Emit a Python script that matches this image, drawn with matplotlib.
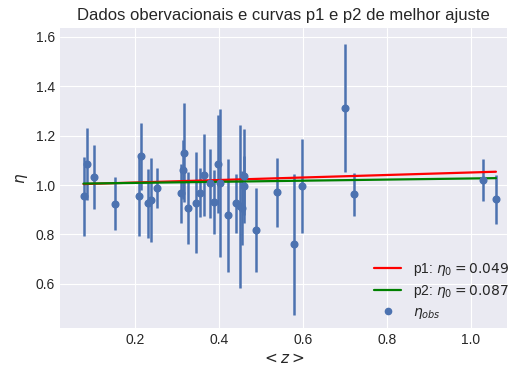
import numpy as np
import matplotlib
matplotlib.use("Agg")
import matplotlib.pyplot as plt

z_obs = [0.077, 0.086, 0.102, 0.152, 0.210, 0.214, 0.231, 0.237, 0.252,
         0.310, 0.313, 0.317, 0.325, 0.345, 0.355, 0.363, 0.379, 0.389,
         0.397, 0.403, 0.422, 0.441, 0.449, 0.454, 0.460, 0.460, 0.488,
         0.539, 0.578, 0.597, 0.700, 0.721, 1.028, 1.060]
eta_obs = [0.955, 1.085, 1.034, 0.924, 0.955, 1.117, 0.926, 0.940, 0.989,
           0.966, 1.063, 1.131, 0.908, 0.928, 0.969, 1.040, 1.007, 0.933,
           1.085, 1.010, 0.877, 0.926, 0.915, 0.906, 1.036, 0.997, 0.819,
           0.971, 0.760, 0.996, 1.312, 0.962, 1.020, 0.942]
eta_err = [0.160, 0.145, 0.130, 0.107, 0.160, 0.135, 0.140, 0.170, 0.080,
           0.120, 0.120, 0.200, 0.145, 0.205, 0.100, 0.165, 0.140, 0.130,
           0.200, 0.300, 0.230, 0.120, 0.330, 0.150, 0.190, 0.120, 0.170,
           0.140, 0.285, 0.190, 0.260, 0.087, 0.086, 0.100]

# best fit curves (end points)
z_fit = [0.077, 1.060]
eta_p1 = [1.004, 1.054]
eta_p2 = [1.006, 1.028]

plt.style.use('seaborn-v0_8-darkgrid')
plt.rcParams['font.family'] = ['Liberation Sans', 'DejaVu Sans']

fig = plt.figure(figsize=(5.13, 3.74), dpi=100)
ax = fig.add_axes([0.117, 0.123, 0.871, 0.802])

ax.errorbar(z_obs, eta_obs, yerr=eta_err, fmt='o', color='#4C72B0',
            markersize=4.8, elinewidth=1.8, capsize=0)
ax.plot(z_fit, eta_p1, color='red', linewidth=1.6, label=r'p1: $\eta_0 = 0.049$')
ax.plot(z_fit, eta_p2, color='green', linewidth=1.6, label=r'p2: $\eta_0 = 0.087$')
ax.plot([], [], 'o', color='#4C72B0', markersize=4.5, label=r'$\eta_{obs}$')

ax.set_xlim(0.021, 1.086)
ax.set_ylim(0.421, 1.636)
ax.set_xticks([0.2, 0.4, 0.6, 0.8, 1.0])
ax.set_yticks([0.6, 0.8, 1.0, 1.2, 1.4, 1.6])
ax.tick_params(labelsize=10)

ax.set_xlabel(r'$<z>$', fontsize=11)
ax.set_ylabel(r'$\eta$', fontsize=11)
ax.set_title('Dados obervacionais e curvas p1 e p2 de melhor ajuste', fontsize=12)
ax.legend(loc='lower right', fontsize=10, borderaxespad=0.1, labelspacing=0.35,
          bbox_to_anchor=(1.02, 0.0))

fig.savefig('out.png', dpi=100)
